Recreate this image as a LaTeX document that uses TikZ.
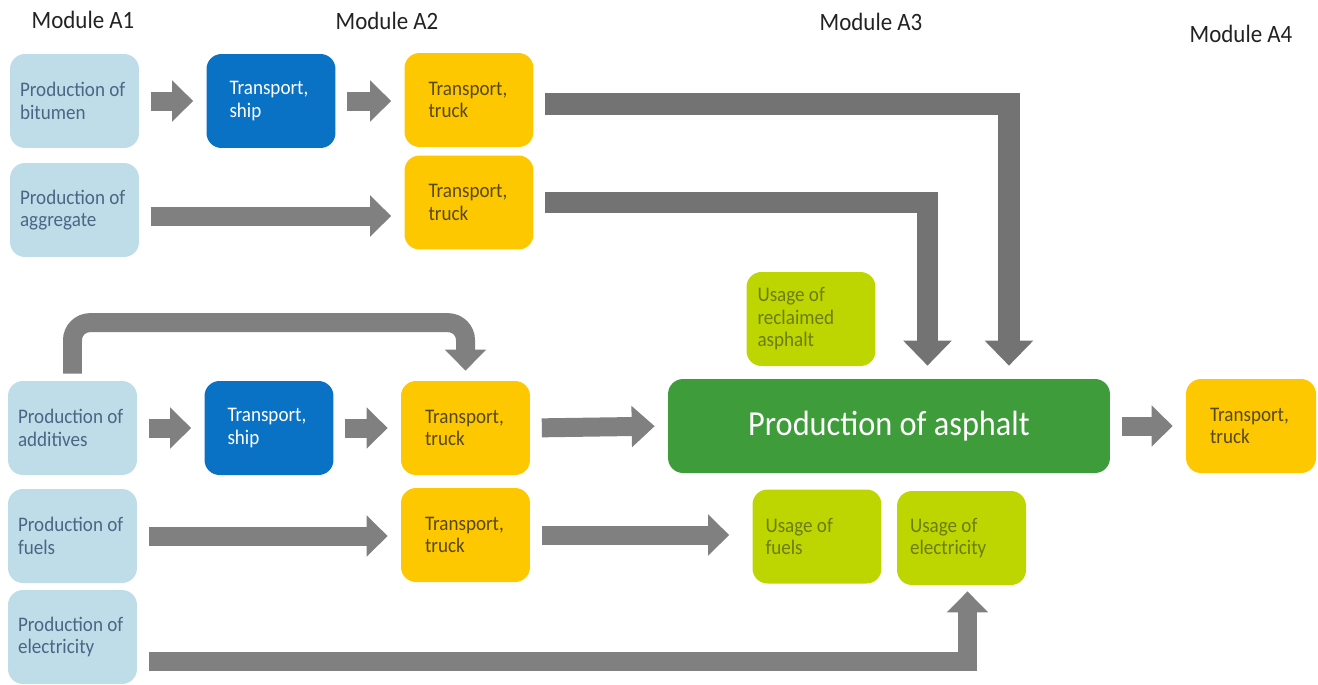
\documentclass[tikz,border=0pt]{standalone}
\usepackage{fontspec}
\setmainfont{Carlito}[FakeStretch=0.92]
\usepackage{tikz}
\usetikzlibrary{arrows.meta}
\definecolor{prodblue}{HTML}{BFDDE9}
\definecolor{prodtext}{HTML}{4B6584}
\definecolor{shipblue}{HTML}{0A72C4}
\definecolor{truckyellow}{HTML}{FDC800}
\definecolor{trucktext}{HTML}{57481A}
\definecolor{usagelime}{HTML}{BDD500}
\definecolor{usagetext}{HTML}{6B7D12}
\definecolor{asphgreen}{HTML}{3F9C3A}
\definecolor{arrgray}{HTML}{808080}
\definecolor{arrdark}{HTML}{737373}
\definecolor{modtext}{HTML}{222222}
\tikzset{
  box/.style={rounded corners=0.3cm, minimum height=1.88cm, align=flush left, inner ysep=0pt,
    font=\fontsize{11.8}{12.8}\selectfont},
  prod/.style={box, fill=prodblue, text=prodtext, text width=2.18cm, inner xsep=0.2cm},
  ship/.style={box, fill=shipblue, text=white, text width=1.66cm, inner xsep=0.46cm},
  truck/.style={box, fill=truckyellow, text=trucktext, text width=1.62cm, inner xsep=0.48cm},
  usage/.style={box, fill=usagelime, text=usagetext, text width=2.06cm, inner xsep=0.26cm},
  module/.style={font=\fontsize{14.2}{16}\selectfont, text=modtext},
  arr/.style={draw=arrgray, line width=0.38cm, -{Triangle[length=0.42cm,width=0.8cm]},
    shorten <=0.23cm, shorten >=0.26cm},
  bigarr/.style={arr, draw=arrdark, line width=0.43cm, -{Triangle[length=0.5cm,width=0.94cm]}}
}
\begin{document}
\begin{tikzpicture}[x=0.02cm, y=-0.02cm]
\useasboundingbox (0,0) rectangle (1318,684);
\node[module] (moda1) at (83,20) {Module A1};
\node[module] (moda2) at (387,21) {Module A2};
\node[module] (moda3) at (871,22) {Module A3};
\node[module] (moda4) at (1241,34) {Module A4};

\node[prod] (pbit) at (74.5,101) {Production of\\bitumen};
\node[ship] (ship1) at (271,101) {Transport,\\ship};
\node[truck] (truck1) at (469,100) {Transport,\\truck};
\node[prod] (pagg) at (74.5,210) {Production of\\aggregate};
\node[truck] (truck2) at (469,202.5) {Transport,\\truck};
\node[usage, inner xsep=0.22cm, text width=2.14cm] (reclaim) at (811,319) {Usage of\\reclaimed\\asphalt};

\node[prod] (padd) at (72.5,428) {Production of\\additives};
\node[ship] (ship2) at (269,428) {Transport,\\ship};
\node[truck] (truck3) at (465.5,428) {Transport,\\truck};
\node[box, fill=asphgreen, text=white, minimum width=8.84cm, align=center,
      font=\fontsize{20}{22}\selectfont] (asph) at (889,426) {Production of asphalt};
\node[truck, text width=1.64cm] (trucka4) at (1251,426) {Transport,\\truck};

\node[prod] (pfuel) at (72.5,536) {Production of\\fuels};
\node[truck] (truck4) at (465.5,535) {Transport,\\truck};
\node[usage] (ufuel) at (817,536.5) {Usage of\\fuels};
\node[usage] (uelec) at (961.5,538) {Usage of\\electricity\\[4pt]};
\node[prod] (pelec) at (72.5,637) {Production of\\electricity};

\draw[arr] (pbit.east) -- (ship1.west);
\draw[arr] (ship1.east) -- (ship1.east -| truck1.west);
\draw[arr] ([yshift=-0.12cm]pagg.east) -- ([yshift=-0.12cm]pagg.east -| truck2.west);
\draw[bigarr] ([yshift=-0.08cm]truck1.east) -| ([xshift=2.4cm]asph.north);
\draw[bigarr] (truck2.east) -| ([xshift=0.77cm]asph.north);
\draw[arr, rounded corners=0.35cm, shorten <=0.14cm, shorten >=0.2cm]
     (padd.north) -- ++(0,-58) -| (truck3.north);
\draw[arr] (padd.east) -- (ship2.west);
\draw[arr] (ship2.east) -- (truck3.west);
\draw[arr, -{Triangle[length=0.46cm,width=0.8cm]}] (truck3.east) -- (asph.west);
\draw[arr] (asph.east) -- (trucka4.west);
\draw[arr] (pfuel.east) -- (pfuel.east -| truck4.west);
\draw[arr, shorten >=0.46cm] (truck4.east) -- (truck4.east -| ufuel.west);
\draw[arr, shorten >=0.12cm] ([yshift=-0.48cm]pelec.east) -| ([xshift=0.12cm]uelec.south);
\end{tikzpicture}
\end{document}
